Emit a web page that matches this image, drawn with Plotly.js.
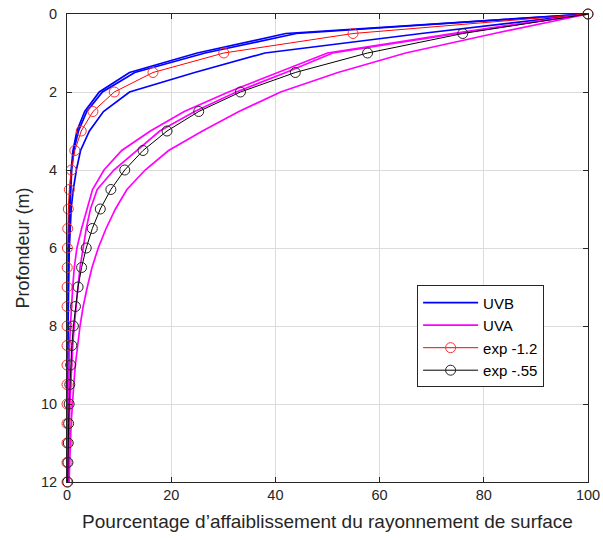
<!DOCTYPE html>
<html>
<head>
<meta charset="utf-8">
<script src="https://cdn.plot.ly/plotly-3.0.1.min.js"></script>
<style>html,body{margin:0;padding:0;background:#fff;}#chart{width:603px;height:540px;}</style>
</head>
<body>
<div id="chart"></div>
<script>
// Depth (m) sampled every 0.5 m
const depth = [0,0.5,1,1.5,2,2.5,3,3.5,4,4.5,5,5.5,6,6.5,7,7.5,8,8.5,9,9.5,10,10.5,11,11.5,12];

// UVB profiles (% of surface radiation)
const uvb1 = [100,44,26.5,13,6.8,3.8,2.2,1.3,0.9,0.7,0.5,0.4,0.32,0.26,0.22,0.18,0.15,0.12,0.1,0.08,0.07,0.06,0.05,0.04,0.03];
const uvb2 = [100,42,25,12,6.2,3.4,1.9,1.15,0.8,0.6,0.45,0.35,0.28,0.22,0.18,0.15,0.12,0.1,0.08,0.07,0.06,0.05,0.04,0.03,0.03];
const uvb3 = [100,68,38,24.5,12,7,4.3,2.6,1.8,1.2,0.8,0.6,0.45,0.35,0.28,0.22,0.18,0.15,0.12,0.1,0.08,0.07,0.06,0.05,0.04];

// UVA profiles
const uva1 = [100,74,50,40.5,31,22.5,16,10.5,7.1,4.9,3.8,2.8,1.9,1.4,1.1,0.85,0.65,0.5,0.4,0.3,0.25,0.2,0.15,0.12,0.1];
const uva2 = [100,75,51,42,32.5,24.5,17.8,13.5,9,5.8,4.5,3.7,3.1,2.5,2.1,1.7,1.4,1.1,0.9,0.7,0.55,0.45,0.35,0.28,0.22];
const uva3 = [100,82,65,52,41,33,26,19.5,15,11.5,9.3,7.5,6,4.8,3.9,3.1,2.5,2,1.6,1.3,1,0.8,0.65,0.5,0.4];

// Exponential reference curves (values read at each marker)
const exp12 = [100,54.9,30.1,16.5,9.07,4.98,2.73,1.5,0.82,0.45,0.25,0.14,0.075,0.041,0.022,0.012,0.0068,0.0037,0.002,0.0011,0.0006,0.0003,0.0002,0.0001,0.0001];
const exp055 = [100,75.96,57.69,43.82,33.29,25.28,19.2,14.59,11.08,8.42,6.39,4.86,3.69,2.8,2.13,1.62,1.23,0.93,0.71,0.54,0.41,0.31,0.24,0.18,0.14];

const legendNames = ['UVB','UVA','exp -1.2','exp -.55'];

const FONT = 'Liberation Sans, Arial, sans-serif';
const blue = '#0000FF', magenta = '#FF00FF';
function profile(x, color, name, show) {
  return {x: x, y: depth, type: 'scatter', mode: 'lines', name: name, legendgroup: name,
    showlegend: show, line: {color: color, width: 1.7}};
}
const traces = [
  profile(uvb1, blue, legendNames[0], true),
  profile(uvb2, blue, legendNames[0], false),
  profile(uvb3, blue, legendNames[0], false),
  profile(uva1, magenta, legendNames[1], true),
  profile(uva2, magenta, legendNames[1], false),
  profile(uva3, magenta, legendNames[1], false),
  {x: exp12, y: depth, type: 'scatter', mode: 'lines+markers', name: legendNames[2], cliponaxis: false,
   line: {color: '#FF0000', width: 1}, marker: {symbol: 'circle-open', size: 10, color: '#FF3030', line: {width: 1}}},
  {x: exp055, y: depth, type: 'scatter', mode: 'lines+markers', name: legendNames[3], cliponaxis: false,
   line: {color: '#000000', width: 1}, marker: {symbol: 'circle-open', size: 10, color: '#222222', line: {width: 1}}}
];

const axisCommon = {
  showline: true, mirror: 'ticks', linecolor: '#262626', linewidth: 1,
  ticks: 'inside', ticklen: 5, tickcolor: '#262626',
  showgrid: true, gridcolor: '#DCDCDC', gridwidth: 1, zeroline: false,
  tickfont: {family: FONT, size: 14.5, color: '#262626'}
};
const layout = {
  width: 603, height: 540,
  margin: {l: 67, r: 15, t: 14, b: 58},
  paper_bgcolor: '#fff', plot_bgcolor: '#fff',
  showlegend: true,
  xaxis: Object.assign({}, axisCommon, {
    range: [0, 100], tickvals: [0,20,40,60,80,100],
    title: {text: 'Pourcentage d’affaiblissement du rayonnement de surface', standoff: 12,
      font: {family: FONT, size: 19, color: '#262626'}}
  }),
  yaxis: Object.assign({}, axisCommon, {
    range: [12, 0], tickvals: [0,2,4,6,8,10,12], ticklabelstandoff: 6,
    title: {text: 'Profondeur (m)', standoff: 6,
      font: {family: FONT, size: 18, color: '#262626'}}
  }),
  legend: {
    x: 0.672, y: 0.42, xanchor: 'left', yanchor: 'top',
    bgcolor: '#fff', bordercolor: '#262626', borderwidth: 1,
    itemwidth: 55, tracegroupgap: 0,
    font: {family: FONT, size: 15, color: '#000'}
  }
};
Plotly.newPlot('chart', traces, layout, {displayModeBar: false, staticPlot: true});
</script>
</body>
</html>
